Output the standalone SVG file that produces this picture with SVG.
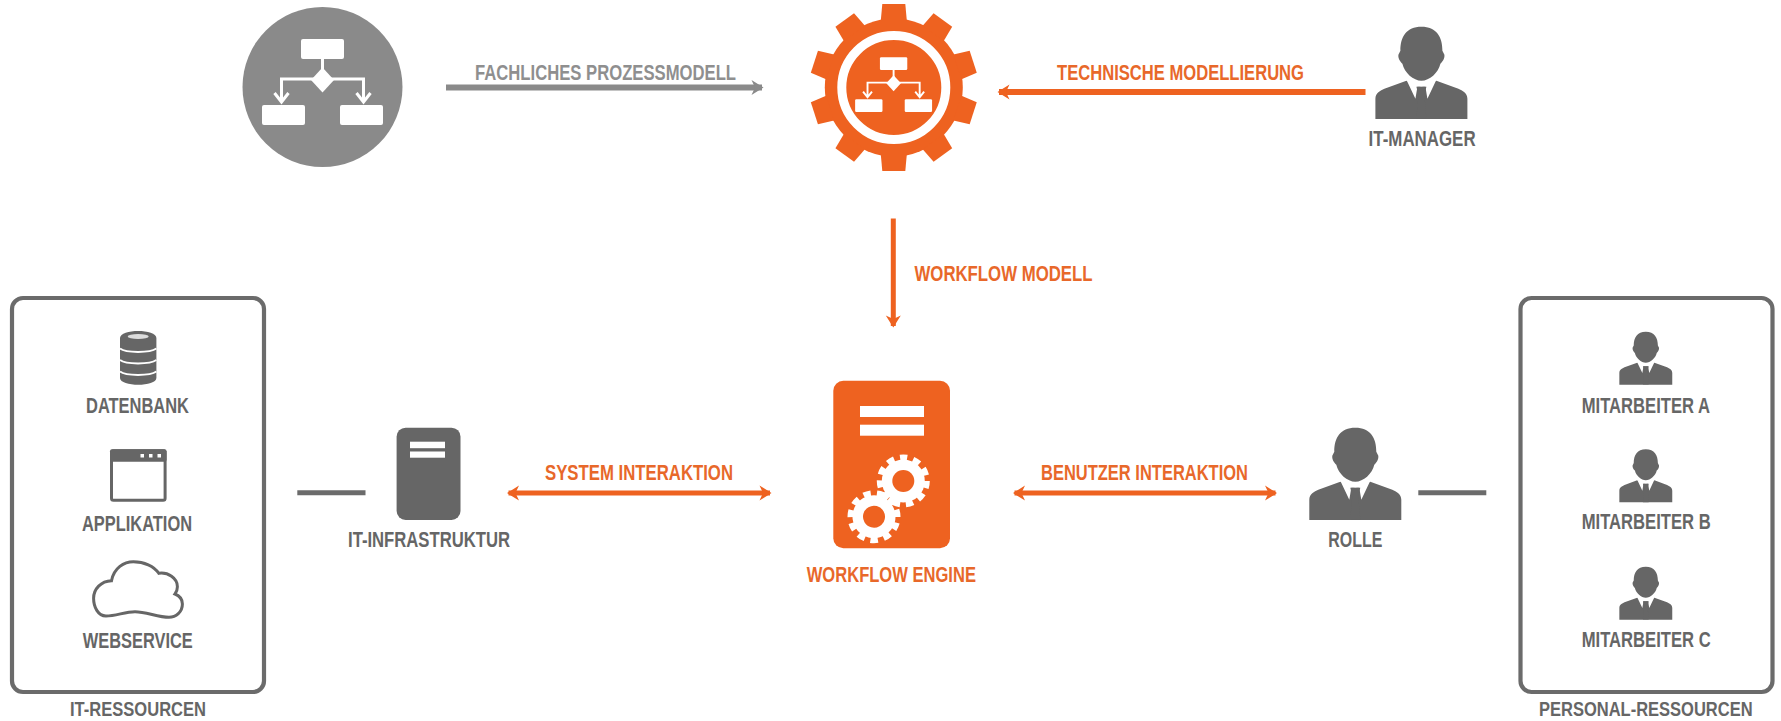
<svg xmlns="http://www.w3.org/2000/svg" xmlns:xlink="http://www.w3.org/1999/xlink" width="1781" height="721" viewBox="0 0 1781 721">
<style>
text{font-family:"Liberation Sans",Arial,sans-serif;font-size:22px;font-weight:bold}
.o{fill:#e8682a}
.g{fill:#666}
.l{fill:#8f8f8f}
.b{font-size:21px}
.box{fill:#fff;stroke:#6b6b6b;stroke-width:4.2}
.wire{fill:none;stroke-linecap:butt}
.og{stroke:#ee6220;stroke-width:6}
.og2{stroke:#ee6220;stroke-width:5}
.gy{stroke:#8a8a8a;stroke-width:6}
.dk{stroke:#6b6b6b;stroke-width:5}
</style>
<defs>
<marker id="aO" markerUnits="userSpaceOnUse" markerWidth="14" markerHeight="16" viewBox="0 0 14 16" refX="12" refY="8" orient="auto-start-reverse"><path d="M1.5 .5 L13.5 8 L1.5 15.5 L5 8Z" fill="#ee6220"/></marker>
<marker id="aG" markerUnits="userSpaceOnUse" markerWidth="14" markerHeight="16" viewBox="0 0 14 16" refX="12" refY="8" orient="auto"><path d="M1.5 .5 L13.5 8 L1.5 15.5 L5 8Z" fill="#8a8a8a"/></marker>
<g id="flow" fill="#fff">
<rect x="-21.5" y="-41" width="43" height="20" rx="2"/>
<rect x="-60.5" y="25" width="43" height="20" rx="2"/>
<rect x="17.5" y="25" width="43" height="20" rx="2"/>
<path d="M0 -12.5 L11.5 0 L0 12.5 L-11.5 0Z"/>
<path d="M0 -21V-10M-41 22V-1H41V22M-48 13L-41 22L-34 13M34 13L41 22L48 13" fill="none" stroke="#fff" stroke-width="3"/>
</g>
<g id="person">
<path d="M0 0C-15 0 -21 10 -21 24L-23 28C-23.5 32 -21 35 -19 37C-17 46 -8 54 0 54C8 54 17 46 19 37C21 35 23.5 32 23 28L21 24C21 10 15 0 0 0Z" fill="#666"/>
<path d="M-46 92.3V72C-46 66 -41 64 -37 62L-15 54L0 60L15 54L37 62C41 64 46 66 46 72V92.3Z" fill="#666"/>
<path d="M-15 53L-6 72L-4 60H4L6 72L15 53L8 55H-8Z" fill="#fff"/>
<path d="M-5 60H5L3 68L5 92H-5L-3 68Z" fill="#666"/>
</g>
<path id="t" d="M-13 -67L-11.5 -83.5H11.5L13 -67Z" fill="#ee6220"/>
<g id="smallgear">
<circle r="21.5" fill="#fff"/>
<circle r="23.5" fill="none" stroke="#fff" stroke-width="6" pathLength="110" stroke-dasharray="5.5 4.5"/>
<circle r="11" fill="#ee6220"/>
</g>
</defs>
<rect width="1781" height="721" fill="#fff"/>

<g id="connectors" class="wire">
<path class="gy" d="M446 87.5H762" marker-end="url(#aG)"/>
<path class="og" d="M1365.5 92H999" marker-end="url(#aO)"/>
<path class="og2" d="M893.3 218.5V326" marker-end="url(#aO)"/>
<path class="og2" d="M508.5 493H770" marker-start="url(#aO)" marker-end="url(#aO)"/>
<path class="og2" d="M1014.5 493H1275.5" marker-start="url(#aO)" marker-end="url(#aO)"/>
<path class="dk" d="M297.3 492.7H365.5"/>
<path class="dk" d="M1418.3 492.7H1486.3"/>
</g>
<g id="connector-labels">
<text class="l" x="475" y="79.5" textLength="261" lengthAdjust="spacingAndGlyphs">FACHLICHES PROZESSMODELL</text>
<text class="o" x="1057" y="79.5" textLength="247" lengthAdjust="spacingAndGlyphs">TECHNISCHE MODELLIERUNG</text>
<text class="o" x="914.5" y="280.7" textLength="178" lengthAdjust="spacingAndGlyphs">WORKFLOW MODELL</text>
<text class="o" x="545" y="480" textLength="188" lengthAdjust="spacingAndGlyphs">SYSTEM INTERAKTION</text>
<text class="o" x="1041" y="480" textLength="207" lengthAdjust="spacingAndGlyphs">BENUTZER INTERAKTION</text>
</g>

<g id="fachliches-modell">
<circle cx="322.5" cy="87" r="80" fill="#8a8a8a"/>
<use xlink:href="#flow" href="#flow" transform="translate(322.5 80)"/>
</g>

<g id="technisches-modell">
<circle cx="893.8" cy="87.5" r="69" fill="#ee6220"/>
<use xlink:href="#t" href="#t" transform="translate(893.8 87.5)"/>
<use xlink:href="#t" href="#t" transform="translate(893.8 87.5) rotate(36)"/>
<use xlink:href="#t" href="#t" transform="translate(893.8 87.5) rotate(72)"/>
<use xlink:href="#t" href="#t" transform="translate(893.8 87.5) rotate(108)"/>
<use xlink:href="#t" href="#t" transform="translate(893.8 87.5) rotate(144)"/>
<use xlink:href="#t" href="#t" transform="translate(893.8 87.5) rotate(180)"/>
<use xlink:href="#t" href="#t" transform="translate(893.8 87.5) rotate(216)"/>
<use xlink:href="#t" href="#t" transform="translate(893.8 87.5) rotate(252)"/>
<use xlink:href="#t" href="#t" transform="translate(893.8 87.5) rotate(288)"/>
<use xlink:href="#t" href="#t" transform="translate(893.8 87.5) rotate(324)"/>
<circle cx="893.8" cy="87.5" r="52" fill="none" stroke="#fff" stroke-width="9"/>
<use xlink:href="#flow" href="#flow" transform="translate(893.6 83.3) scale(.636)"/>
</g>

<g id="it-manager">
<use xlink:href="#person" href="#person" transform="translate(1421.4 26.7)"/>
<text class="g" x="1368.6" y="146" textLength="107" lengthAdjust="spacingAndGlyphs">IT-MANAGER</text>
</g>

<g id="it-ressourcen">
<rect class="box" x="12" y="298" width="252" height="394" rx="11"/>
<text class="g b" x="70" y="716.4" textLength="136" lengthAdjust="spacingAndGlyphs">IT-RESSOURCEN</text>
</g>
<g id="datenbank">
<path d="M120 338C120 328.5 156.4 328.5 156.4 338V378C156.4 387 120 387 120 378Z" fill="#666"/>
<ellipse cx="138.2" cy="336.5" rx="10.5" ry="2.6" fill="#ddd"/>
<path d="M120 348.5C126 353 150 353 156.4 348.5M120 360C126 364.5 150 364.5 156.4 360M120 371.5C126 376 150 376 156.4 371.5" fill="none" stroke="#fff" stroke-width="2"/>
<text class="g" x="86" y="413.3" textLength="103" lengthAdjust="spacingAndGlyphs">DATENBANK</text>
</g>
<g id="applikation">
<rect x="111.5" y="450.8" width="53.6" height="49.4" rx="2" fill="#fff" stroke="#666" stroke-width="3"/>
<rect x="110" y="449.3" width="56.6" height="12.5" rx="2" fill="#666"/>
<g fill="#fff"><rect x="140.5" y="454" width="3.5" height="3.5"/><rect x="149" y="454" width="3.5" height="3.5"/><rect x="157.5" y="454" width="3.5" height="3.5"/></g>
<text class="g" x="82" y="530.7" textLength="110" lengthAdjust="spacingAndGlyphs">APPLIKATION</text>
</g>
<g id="webservice">
<path d="M111.5 580.7C114 568 124 561.7 133.4 561.7C144 561.7 154 566 158.8 573.3C168 572 177.4 578 177.4 586.7C177.4 590 176.5 592 175 594C180 596 182.4 599 182.4 604C182.4 612 176 617.3 169 617.3C158 617.3 146 611.7 135 611.7C125 611.7 116 616 106 616C98 616 93.6 607 93.6 598.3C93.6 589 101 581 111.5 580.7Z" fill="#fff" stroke="#666" stroke-width="3"/>
<text class="g" x="82.8" y="648.3" textLength="110" lengthAdjust="spacingAndGlyphs">WEBSERVICE</text>
</g>
<g id="it-infrastruktur">
<rect x="396.6" y="427.7" width="63.9" height="92.3" rx="9" fill="#666"/>
<rect x="410" y="441.7" width="35" height="6.5" fill="#fff"/>
<rect x="410" y="451.5" width="35" height="6.2" fill="#fff"/>
<text class="g" x="348" y="547.3" textLength="162" lengthAdjust="spacingAndGlyphs">IT-INFRASTRUKTUR</text>
</g>
<g id="workflow-engine">
<rect x="833.3" y="380.7" width="116.7" height="167.6" rx="10" fill="#ee6220"/>
<rect x="860" y="406" width="64" height="11" fill="#fff"/>
<rect x="860" y="424.7" width="64" height="11" fill="#fff"/>
<use xlink:href="#smallgear" href="#smallgear" transform="translate(903.3 481)"/>
<use xlink:href="#smallgear" href="#smallgear" transform="translate(874 516.7) rotate(15)"/>
<text class="o" x="806.7" y="582.3" textLength="169.3" lengthAdjust="spacingAndGlyphs">WORKFLOW ENGINE</text>
</g>
<g id="rolle">
<use xlink:href="#person" href="#person" transform="translate(1355.3 427.7)"/>
<text class="g" x="1328.3" y="546.7" textLength="54" lengthAdjust="spacingAndGlyphs">ROLLE</text>
</g>
<g id="personal-ressourcen">
<rect class="box" x="1520.5" y="298" width="252" height="394" rx="11"/>
<text class="g b" transform="translate(1539 716.4) scale(.786 1)">PERSONAL-RESSOURCEN</text>
</g>
<g id="mitarbeiter-a">
<use xlink:href="#person" href="#person" transform="translate(1645.8 331.7) scale(.575)"/>
<text class="g" x="1581.7" y="413.3" textLength="128.3" lengthAdjust="spacingAndGlyphs">MITARBEITER A</text>
</g>
<g id="mitarbeiter-b">
<use xlink:href="#person" href="#person" transform="translate(1645.8 449.3) scale(.575)"/>
<text class="g" x="1581.7" y="529.3" textLength="129" lengthAdjust="spacingAndGlyphs">MITARBEITER B</text>
</g>
<g id="mitarbeiter-c">
<use xlink:href="#person" href="#person" transform="translate(1645.8 566.7) scale(.575)"/>
<text class="g" x="1581.7" y="647.3" textLength="129" lengthAdjust="spacingAndGlyphs">MITARBEITER C</text>
</g>
</svg>
